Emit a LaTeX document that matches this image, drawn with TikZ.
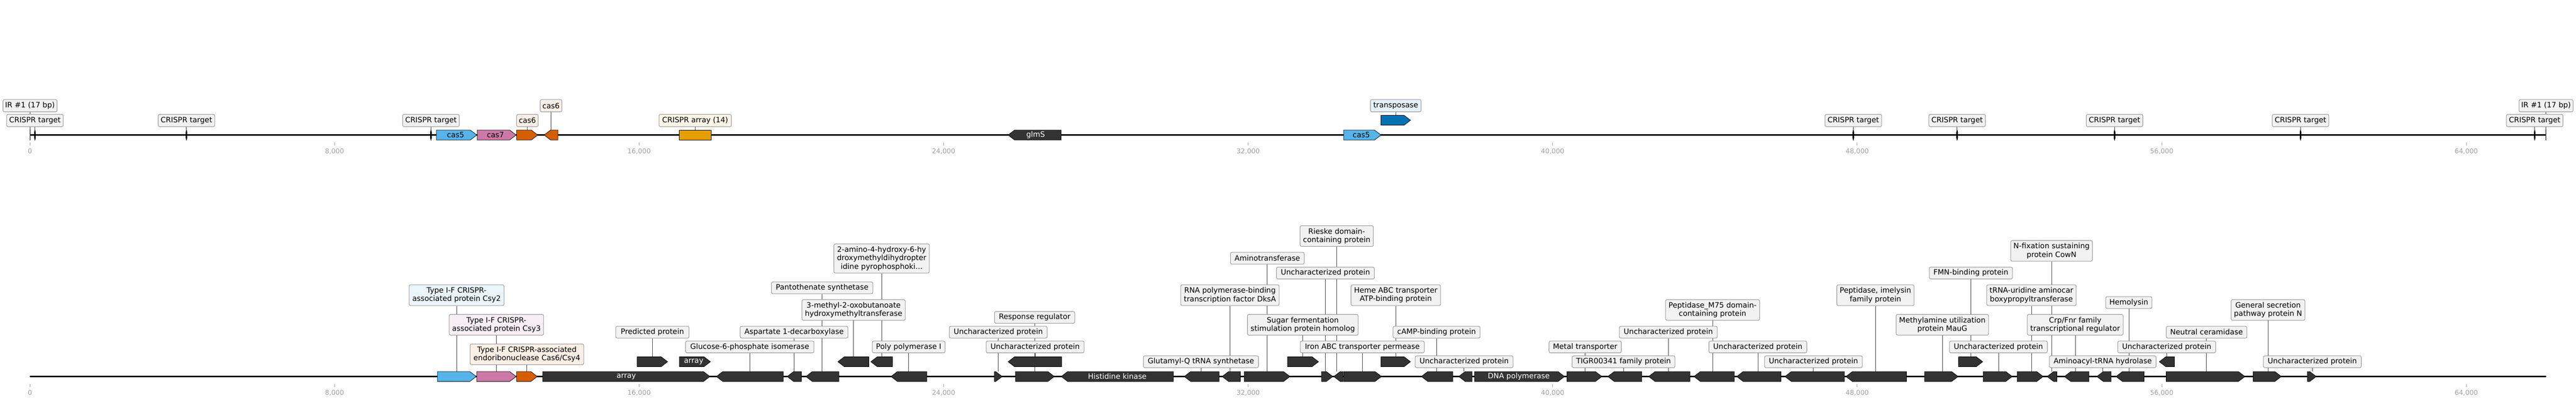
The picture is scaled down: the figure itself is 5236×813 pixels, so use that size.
\documentclass[tikz,border=0pt]{standalone}
\usepackage{fontspec}
\setmainfont{DejaVu Sans}
\definecolor{cfive}{HTML}{56B4E9}
\definecolor{cseven}{HTML}{CC79A7}
\definecolor{csix}{HTML}{D55E00}
\definecolor{carr}{HTML}{E69F00}
\definecolor{ctrans}{HTML}{0072B2}
\definecolor{dk}{HTML}{333333}
\definecolor{lgen}{HTML}{F2F2F2}
\definecolor{lsix}{HTML}{FCEFE5}
\definecolor{larr}{HTML}{FDF6E6}
\definecolor{ltrans}{HTML}{E6F2F9}
\definecolor{lfive}{HTML}{EAF5FC}
\definecolor{lseven}{HTML}{F8EEF4}
\definecolor{lborder}{HTML}{9A9A9A}
\definecolor{tickc}{HTML}{A0A0A0}
\pgfdeclarelayer{back}
\pgfdeclarelayer{bg}
\pgfsetlayers{back,bg,main}
\newcommand{\gfwd}[4]{%
  \pgfmathsetmacro{\ghl}{min(13,#2-#1)}%
  \filldraw[garr,fill=#4] (#1,#3-10) -- ({#2-\ghl},#3-10) -- (#2,#3) -- ({#2-\ghl},#3+10) -- (#1,#3+10) -- cycle;}
\newcommand{\grev}[4]{%
  \pgfmathsetmacro{\ghl}{min(13,#2-#1)}%
  \filldraw[garr,fill=#4] (#2,#3-10) -- ({#1+\ghl},#3-10) -- (#1,#3) -- ({#1+\ghl},#3+10) -- (#2,#3+10) -- cycle;}
\newcommand{\glab}[8]{%
  \node[lab=#6, minimum width=#5pt, minimum height={(#4-#3)*1pt}] (#1) at (#2,{(#3+#4)/2}) {#8};
  \coordinate (#1t) at (#2,#7);
  \begin{pgfonlayer}{bg}\draw[stem] (#1.south) -- (#1t);\end{pgfonlayer}}
\newcommand{\gmark}[1]{\fill[black] (#1,262) -- (#1+1.6,268) -- (#1+1.6,280) -- (#1,286) -- (#1-1.6,280) -- (#1-1.6,268) -- cycle;}
\newcommand{\gtick}[3]{%
  \draw[tick] (#2,289) -- (#2,295); \node[ticklab] (ta#1) at (#2,307) {#3};
  \draw[tick] (#2,779) -- (#2,785); \node[ticklab] (tb#1) at (#2,797) {#3};}
\begin{document}
\begin{tikzpicture}[x=1pt,y=-1pt,
  garr/.style={draw=black,line width=0.8pt},
  lab/.style={draw=lborder,line width=1.1pt,rounded corners=3pt,fill=#1,inner xsep=2pt,inner ysep=0pt,align=center,font=\fontsize{15}{17}\selectfont,text=black},
  lab/.default=lgen,
  stem/.style={draw=black!75,line width=0.9pt},
  tick/.style={draw=tickc,line width=1pt},
  ticklab/.style={font=\fontsize{13.5}{15}\selectfont,text=tickc,inner sep=0pt},
  intxt/.style={font=\fontsize{15}{17}\selectfont,text=white,inner sep=0pt},
  intxtb/.style={font=\fontsize{15}{17}\selectfont,text=black,inner sep=0pt}]
\begin{pgfonlayer}{back}
\fill[white] (0,0) rectangle (5236,813);
\end{pgfonlayer}
\useasboundingbox (0,0) rectangle (5236,813);
% axes
\gtick{0}{61}{0}
\gtick{1}{680}{8,000}
\gtick{2}{1299}{16,000}
\gtick{3}{1918}{24,000}
\gtick{4}{2537}{32,000}
\gtick{5}{3156}{40,000}
\gtick{6}{3775}{48,000}
\gtick{7}{4394}{56,000}
\gtick{8}{5013}{64,000}
\coordinate (tl) at (61,274); \coordinate (tr) at (5175,274);
\coordinate (bl) at (61,764); \coordinate (br) at (5175,764);
\draw[line width=2.6pt] (tl) -- (tr);
\draw[line width=2.6pt] (bl) -- (br);
% ---------- top track ----------
\draw[line width=1.2pt] (61,263) -- (61,285);
\draw[line width=1.2pt] (5175,263) -- (5175,285);
\gmark{71}\gmark{379}\gmark{876}\gmark{3767}\gmark{3978}\gmark{4298}\gmark{4676}\gmark{5152}
\gfwd{887}{969}{274}{cfive}
\gfwd{970}{1049}{274}{cseven}
\gfwd{1050}{1093}{274}{csix}
\grev{1106}{1134}{274}{csix}
\filldraw[garr,fill=carr] (1381,264) rectangle (1445,284);
\grev{2049}{2157}{274}{dk}
\gfwd{2731}{2807}{274}{cfive}
\gfwd{2807}{2867}{244}{ctrans}
\node[intxtb] (xc5a) at (926,274) {cas5};
\node[intxtb] (xc7) at (1007,274) {cas7};
\node[intxt] (xglm) at (2105,274) {glmS};
\node[intxtb] (xc5b) at (2767,274) {cas5};
\glab{tIRa}{61}{202}{227}{110}{lgen}{263}{IR \#1 (17 bp)}
\glab{tCa}{71}{232}{257}{115}{lgen}{263}{CRISPR target}
\glab{tCb}{379}{232}{257}{115}{lgen}{263}{CRISPR target}
\glab{tCc}{876}{232}{257}{115}{lgen}{263}{CRISPR target}
\glab{tsixa}{1072}{232}{257}{44}{lsix}{264}{cas6}
\glab{tsixb}{1120}{202}{227}{44}{lsix}{264}{cas6}
\glab{tarr}{1413}{232}{257}{147}{larr}{264}{CRISPR array (14)}
\glab{ttr}{2837}{202}{227}{103}{ltrans}{234}{transposase}
\glab{tCd}{3767}{232}{257}{115}{lgen}{263}{CRISPR target}
\glab{tCe}{3978}{232}{257}{115}{lgen}{263}{CRISPR target}
\glab{tCf}{4298}{232}{257}{115}{lgen}{263}{CRISPR target}
\glab{tCg}{4676}{232}{257}{115}{lgen}{263}{CRISPR target}
\glab{tCh}{5152}{232}{257}{115}{lgen}{263}{CRISPR target}
\glab{tIRb}{5175}{202}{227}{110}{lgen}{263}{IR \#1 (17 bp)}
% ---------- bottom track, row 0 ----------
\gfwd{889}{968}{764}{cfive}
\gfwd{969}{1049}{764}{cseven}
\gfwd{1050}{1092}{764}{csix}
\gfwd{1103}{1443}{764}{dk}
\grev{1456}{1592}{764}{dk}
\grev{1600}{1629}{764}{dk}
\grev{1638}{1705}{764}{dk}
\grev{1811}{1884}{764}{dk}
\gfwd{2021}{2037}{764}{dk}
\gfwd{2064}{2143}{764}{dk}
\grev{2157}{2385}{764}{dk}
\grev{2407}{2478}{764}{dk}
\grev{2484}{2521}{764}{dk}
\gfwd{2529}{2622}{764}{dk}
\gfwd{2686}{2709}{764}{dk}
\grev{2711}{2730}{764}{dk}
\gfwd{2731}{2808}{764}{dk}
\grev{2889}{2953}{764}{dk}
\grev{2965}{2992}{764}{dk}
\gfwd{2997}{3180}{764}{dk}
\gfwd{3185}{3256}{764}{dk}
\grev{3268}{3337}{764}{dk}
\grev{3351}{3435}{764}{dk}
\grev{3443}{3525}{764}{dk}
\grev{3530}{3620}{764}{dk}
\grev{3628}{3749}{764}{dk}
\grev{3752}{3875}{764}{dk}
\gfwd{3912}{3980}{764}{dk}
\gfwd{4031}{4090}{764}{dk}
\gfwd{4100}{4153}{764}{dk}
\grev{4161}{4181}{764}{dk}
\grev{4196}{4246}{764}{dk}
\grev{4262}{4291}{764}{dk}
\grev{4301}{4358}{764}{dk}
\gfwd{4403}{4563}{764}{dk}
\gfwd{4580}{4637}{764}{dk}
\gfwd{4690}{4708}{764}{dk}
% row 1
\gfwd{1295}{1357}{734}{dk}
\gfwd{1381}{1444}{734}{dk}
\grev{1703}{1766}{734}{dk}
\grev{1770}{1814}{734}{dk}
\grev{2049}{2158}{734}{dk}
\gfwd{2617}{2680}{734}{dk}
\gfwd{2807}{2867}{734}{dk}
\gfwd{3981}{4030}{734}{dk}
\grev{4389}{4420}{734}{dk}
\node[intxt] (xarr) at (1273,764) {array};
\node[intxt] (xarr2) at (1410,734) {array};
\node[intxt] (xhis) at (2271,764) {Histidine kinase};
\node[intxt] (xdna) at (3087,764) {DNA polymerase};
% bottom labels
\glab{b1}{928}{578}{620}{193}{lfive}{754}{Type I-F CRISPR-\\associated protein Csy2}
\glab{b2}{1009}{638}{680}{192}{lseven}{754}{Type I-F CRISPR-\\associated protein Csy3}
\glab{b3}{1071}{698}{740}{231}{lsix}{754}{Type I-F CRISPR-associated\\endoribonuclease Cas6/Csy4}
\glab{b4}{1326}{662}{686}{149}{lgen}{724}{Predicted protein}
\glab{b5}{1524}{692}{716}{261}{lgen}{754}{Glucose-6-phosphate isomerase}
\glab{b6}{1614}{662}{686}{219}{lgen}{754}{Aspartate 1-decarboxylase}
\glab{b7}{1671}{572}{596}{206}{lgen}{754}{Pantothenate synthetase}
\glab{b8}{1735}{608}{650}{210}{lgen}{724}{3-methyl-2-oxobutanoate\\hydroxymethyltransferase}
\glab{b9}{1792}{495}{554}{194}{lgen}{724}{2-amino-4-hydroxy-6-hy\\droxymethyldihydropter\\idine pyrophosphoki...}
\glab{b10}{1847}{692}{716}{148}{lgen}{754}{Poly polymerase I}
\glab{b11}{2029}{662}{686}{199}{lgen}{754}{Uncharacterized protein}
\glab{b12}{2103}{632}{656}{163}{lgen}{754}{Response regulator}
\glab{b13}{2104}{692}{716}{199}{lgen}{724}{Uncharacterized protein}
\glab{b14}{2441}{722}{746}{234}{lgen}{754}{Glutamyl-Q tRNA synthetase}
\glab{b15}{2500}{578}{620}{200}{lgen}{754}{RNA polymerase-binding\\transcription factor DksA}
\glab{b16}{2576}{512}{536}{150}{lgen}{754}{Aminotransferase}
\glab{b17}{2648}{638}{680}{225}{lgen}{724}{Sugar fermentation\\stimulation protein homolog}
\glab{b18}{2694}{542}{566}{199}{lgen}{754}{Uncharacterized protein}
\glab{b19}{2717}{458}{500}{149}{lgen}{754}{Rieske domain-\\containing protein}
\glab{b20}{2769}{692}{716}{252}{lgen}{754}{Iron ABC transporter permease}
\glab{b21}{2837}{578}{620}{182}{lgen}{724}{Heme ABC transporter\\ATP-binding protein}
\glab{b22}{2920}{662}{686}{177}{lgen}{754}{cAMP-binding protein}
\glab{b23}{2976}{722}{746}{199}{lgen}{754}{Uncharacterized protein}
\glab{b24}{3222}{692}{716}{147}{lgen}{754}{Metal transporter}
\glab{b25}{3300}{722}{746}{209}{lgen}{754}{TIGR00341 family protein}
\glab{b26}{3391}{662}{686}{199}{lgen}{754}{Uncharacterized protein}
\glab{b27}{3481}{608}{650}{191}{lgen}{754}{Peptidase\_M75 domain-\\containing protein}
\glab{b28}{3573}{692}{716}{199}{lgen}{754}{Uncharacterized protein}
\glab{b29}{3686}{722}{746}{199}{lgen}{754}{Uncharacterized protein}
\glab{b30}{3812}{578}{620}{157}{lgen}{754}{Peptidase, imelysin\\family protein}
\glab{b31}{3948}{638}{680}{188}{lgen}{754}{Methylamine utilization\\protein MauG}
\glab{b32}{4006}{542}{566}{169}{lgen}{724}{FMN-binding protein}
\glab{b33}{4062}{692}{716}{199}{lgen}{754}{Uncharacterized protein}
\glab{b34}{4170}{488}{530}{166}{lgen}{754}{N-fixation sustaining\\protein CowN}
\glab{b35}{4129}{578}{620}{182}{lgen}{754}{tRNA-uridine aminocar\\boxypropyltransferase}
\glab{b36}{4218}{638}{680}{195}{lgen}{754}{Crp/Fnr family\\transcriptional regulator}
\glab{b37}{4274}{722}{746}{217}{lgen}{754}{Aminoacyl-tRNA hydrolase}
\glab{b38}{4327}{602}{626}{94}{lgen}{754}{Hemolysin}
\glab{b39}{4404}{692}{716}{199}{lgen}{724}{Uncharacterized protein}
\glab{b40}{4485}{662}{686}{164}{lgen}{754}{Neutral ceramidase}
\glab{b41}{4610}{608}{650}{150}{lgen}{754}{General secretion\\pathway protein N}
\glab{b42}{4700}{722}{746}{199}{lgen}{754}{Uncharacterized protein}
\end{tikzpicture}
\end{document}
